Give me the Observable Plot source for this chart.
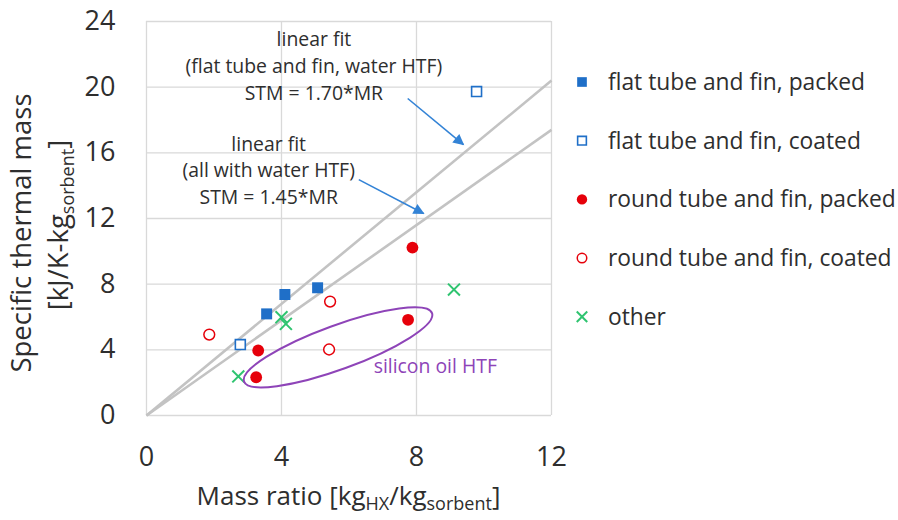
<!DOCTYPE html>
<html><head><meta charset="utf-8">
<script src="https://cdn.jsdelivr.net/npm/d3@7"></script>
<script src="https://cdn.jsdelivr.net/npm/@observablehq/plot@0.6"></script>
<style>
body{margin:0;background:#fff;}
#wrap{position:relative;width:898px;height:520px;overflow:hidden;}
</style></head><body><div id="wrap"></div>
<script>
// ---- data ----
const categories = ["flat tube and fin, packed","flat tube and fin, coated","round tube and fin, packed","round tube and fin, coated","other"];
const flatPackedMR  = [3.56, 4.10, 5.07];
const flatPackedSTM = [6.19, 7.37, 7.78];
const flatCoatedMR  = [2.78, 9.78];
const flatCoatedSTM = [4.32, 19.73];
const roundPackedMR  = [3.31, 3.25, 7.75, 7.88];
const roundPackedSTM = [3.96, 2.33, 5.83, 10.23];
const roundCoatedMR  = [1.86, 5.44, 5.41];
const roundCoatedSTM = [4.93, 6.94, 4.02];
const otherMR  = [2.72, 4.00, 4.13, 9.11];
const otherSTM = [2.38, 5.99, 5.58, 7.67];
const xTicks = [0, 4, 8, 12];
const yTicks = [0, 4, 8, 12, 16, 20, 24];
const fitSlopes = [1.70, 1.45];
const fitLabels = ["linear fit\n(flat tube and fin, water HTF)\nSTM = 1.70*MR", "linear fit\n(all with water HTF)\nSTM = 1.45*MR"];
const fitLabelX = [4.96, 3.62];
const fitLabelY = [21.38, 15.04];
const arrowX1 = [7.74, 6.29], arrowY1 = [19.31, 14.37];
const arrowX2 = [9.39, 8.21], arrowY2 = [16.50, 12.30];
const ellipseCenter = [5.69, 4.12];
const ellipseLabel = "silicon oil HTF";
const ellipseLabelPos = [6.73, 2.98];

// ---- tables ----
const pts = (mr, stm, cat) => mr.map((m, i) => ({mr: m, stm: stm[i], cat}));
const sets = [
  pts(flatPackedMR, flatPackedSTM, categories[0]),
  pts(flatCoatedMR, flatCoatedSTM, categories[1]),
  pts(roundPackedMR, roundPackedSTM, categories[2]),
  pts(roundCoatedMR, roundCoatedSTM, categories[3]),
  pts(otherMR, otherSTM, categories[4])
];
const xMax = xTicks[xTicks.length - 1];
const fits = fitSlopes.map(s => ({x1: 0, y1: 0, x2: xMax, y2: s * xMax}));
const notes = fitLabels.map((t, i) => ({t, x: fitLabelX[i], y: fitLabelY[i]}));
const arrows = arrowX1.map((x, i) => ({x1: x, y1: arrowY1[i], x2: arrowX2[i], y2: arrowY2[i]}));

const BLUE = "#1f6fc8", RED = "#e6000a", GREEN = "#2fc470", PURPLE = "#8e44b8", ARROW = "#3383d6";
const TXT = "#2e2e2e";
const styles = [
  {symbol: "square", fill: BLUE, stroke: "none", r: 6.2},
  {symbol: "square", fill: "white", stroke: BLUE, r: 5.6, strokeWidth: 1.6},
  {symbol: "circle", fill: RED, stroke: "none", r: 5.9},
  {symbol: "circle", fill: "white", stroke: RED, r: 5.4, strokeWidth: 1.5},
  {symbol: "times", fill: "none", stroke: GREEN, r: 5.5, strokeWidth: 2}
];

const chart = Plot.plot({
  width: 898, height: 520,
  marginLeft: 146, marginRight: 347, marginTop: 21, marginBottom: 105,
  style: {fontFamily: "'Open Sans', sans-serif", fontSize: "27px", color: TXT, background: "white", overflow: "visible"},
  x: {domain: [0, 12], ticks: xTicks, tickSize: 0, tickPadding: 31, label: null},
  y: {domain: [0, 24], ticks: yTicks, tickSize: 0, tickPadding: 31, label: null},
  marks: [
    Plot.ruleX(xTicks, {stroke: "#d9d9d9", strokeWidth: 1.3}),
    Plot.ruleY(yTicks, {stroke: "#d9d9d9", strokeWidth: 1.3}),
    Plot.link(fits, {x1: "x1", y1: "y1", x2: "x2", y2: "y2", stroke: "#c3c3c3", strokeWidth: 2.6}),
    ...sets.map((d, i) => Plot.dot(d, {x: "mr", y: "stm", ...styles[i]})),
    Plot.text(notes, {x: "x", y: "y", text: "t", fontSize: 19.4, lineHeight: 1.37, fill: TXT, textAnchor: "middle"}),
    Plot.link(arrows, {x1: "x1", y1: "y1", x2: "x2", y2: "y2", stroke: ARROW, strokeWidth: 1.6}),
    Plot.text([ellipseLabel], {x: ellipseLabelPos[0], y: ellipseLabelPos[1], text: d => d, fontSize: 19.4, fill: PURPLE, textAnchor: "start"})
  ]
});
document.getElementById("wrap").appendChild(chart);

// ---- extra drawing ----
const sx = chart.scale("x"), sy = chart.scale("y");
const svg = d3.select(chart);
const defs = svg.append("defs");
defs.append("marker").attr("id", "ah").attr("viewBox", "0 0 10 10").attr("refX", 9).attr("refY", 5)
  .attr("markerWidth", 14).attr("markerHeight", 11).attr("markerUnits", "userSpaceOnUse").attr("orient", "auto")
  .append("path").attr("d", "M0,0L10,5L0,10z").attr("fill", ARROW);
svg.selectAll("g").filter(function() { return this.getAttribute("stroke") === ARROW; })
  .selectAll("path, line").attr("marker-end", "url(#ah)");

// ellipse
svg.append("ellipse")
  .attr("cx", 0).attr("cy", 0).attr("rx", 100).attr("ry", 22)
  .attr("transform", `translate(${sx.apply(ellipseCenter[0])},${sy.apply(ellipseCenter[1])}) rotate(-20)`)
  .attr("fill", "none").attr("stroke", PURPLE).attr("stroke-width", 2);

// axis titles
const font = "'Open Sans', sans-serif";
const xt = svg.append("text").attr("x", (sx.range[0] + sx.range[1]) / 2).attr("y", 505)
  .attr("text-anchor", "middle").attr("font-family", font).attr("font-size", 26).attr("fill", TXT);
xt.append("tspan").text("Mass ratio [kg");
xt.append("tspan").text("HX").attr("font-size", 18).attr("dy", 5);
xt.append("tspan").text("/kg").attr("dy", -5);
xt.append("tspan").text("sorbent").attr("font-size", 18).attr("dy", 5);
xt.append("tspan").text("]").attr("dy", -5);

const yt = svg.append("g").attr("transform", "rotate(-90)")
  .attr("font-family", font).attr("font-size", 27.5).attr("fill", TXT).attr("text-anchor", "middle");
yt.append("text").attr("x", -233).attr("y", 31).text("Specific thermal mass");
const l2 = yt.append("text").attr("x", -225).attr("y", 68);
l2.append("tspan").text("[kJ/K-kg");
l2.append("tspan").text("sorbent").attr("font-size", 18).attr("dy", 6);
l2.append("tspan").text("]").attr("dy", -6);

// legend
const lg = svg.append("g").attr("font-family", font).attr("font-size", 22.8).attr("fill", TXT).attr("text-anchor", "start");
categories.forEach((c, i) => {
  const y = 82 + i * 58.7;
  const s = styles[i];
  const sym = {square: d3.symbolSquare, circle: d3.symbolCircle, times: d3.symbolTimes}[s.symbol];
  lg.append("path").attr("d", d3.symbol(sym, Math.PI * (s.r * 0.88) ** 2)())
    .attr("transform", `translate(582,${y})`)
    .attr("fill", s.fill).attr("stroke", s.stroke).attr("stroke-width", s.strokeWidth || 0);
  lg.append("text").attr("x", 608).attr("y", y).attr("dy", "0.35em").text(c);
});
</script></body></html>
